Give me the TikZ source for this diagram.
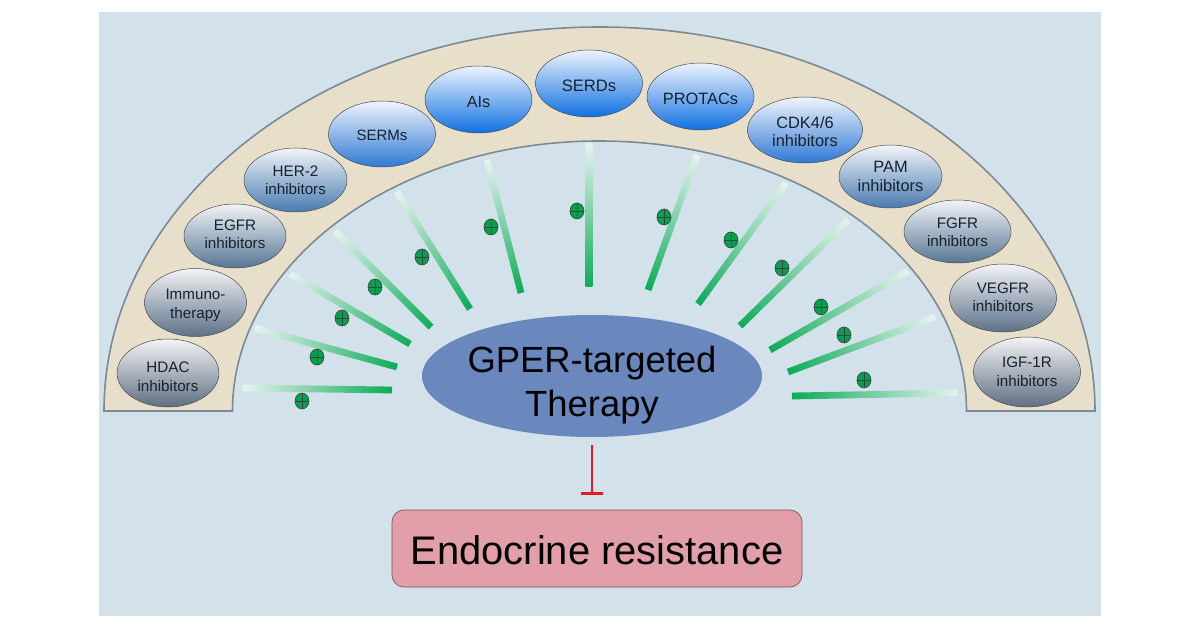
\documentclass[tikz,border=0pt]{standalone}
\usepackage{fontspec}
\setmainfont{Liberation Sans}
\usetikzlibrary{shapes.geometric,arrows.meta}
\definecolor{panelbg}{HTML}{D3E2EA}
\definecolor{archfill}{HTML}{E8DFCB}
\definecolor{archline}{HTML}{7B8A94}
\definecolor{bargreen}{HTML}{0CAB58}
\definecolor{barmid}{HTML}{7CD8A8}
\definecolor{barend}{HTML}{E6F3EE}
\definecolor{plusgreen}{HTML}{00A24F}
\definecolor{gperblue}{HTML}{6A88BE}
\definecolor{resistpink}{HTML}{E29FAA}
\definecolor{labelink}{HTML}{16222E}
\definecolor{inhibitred}{HTML}{E31B23}
\definecolor{shadeA}{HTML}{1070E2}
\definecolor{shadeB}{HTML}{2F78D4}
\definecolor{shadeC}{HTML}{4A7AB0}
\definecolor{shadeD}{HTML}{577693}
\definecolor{shadeE}{HTML}{5D7189}
\definecolor{shadeF}{HTML}{5F6F82}
\tikzset{
  drug/.style={ellipse,draw=black!70,line width=0.5pt,inner sep=0pt},
  drugtext/.style={align=center,text=labelink},
  plusmark/.style={ellipse,draw=black!75,line width=0.6pt,fill=plusgreen,minimum width=14pt,minimum height=16pt,inner sep=0pt},
  inhibit/.style={draw=inhibitred,line width=2.4pt,-{Bar[width=22pt,length=3pt]}},
}
\begin{document}
\begin{tikzpicture}[x=1pt,y=-1pt]
\useasboundingbox (0,0) rectangle (1200,628);
\fill [panelbg] (99,12) rectangle (1101,616);
% the arch
\draw [fill=archfill,draw=archline,line width=1.6pt] (104,411) arc [start angle=180,end angle=0,x radius=495.5pt,y radius=384pt]
  -- (966.5,411) arc [start angle=0,end angle=180,x radius=367pt,y radius=270pt] -- cycle;
% bars, inner end first
\foreach \ax/\ay/\bx/\by in {392/390/243/388,397/367/255/328,410/344/290/274,431/327/335/231,470/309/397/192,521/293/487/160,
  589/287/589/144,648/290/697/155,698/304/786/183,740/326/848/220,770/350/908/271,788/372/935/317,792/396/957/393}{
  \pgfmathsetmacro{\barlen}{veclen(\bx-\ax,\by-\ay)}
  \pgfmathsetmacro{\barang}{atan2(\ay-\by,\bx-\ax)}
  \begin{scope}[transform canvas={shift={(\ax,\ay)},rotate=\barang}]
    \shade [left color=bargreen,middle color=barmid,right color=barend] (0,-3.4) rectangle (\barlen,3.4);
  \end{scope}
}
\foreach \x/\y [count=\i] in {302/401,317/357,342/318,375/287,422/257,491/227,577/211,664/217,731/240,782/268,821/307,844/335,864/380}{
  \node [plusmark] (plus\i) at (\x,\y) {};
  \draw [black!75,line width=0.6pt] (plus\i.north) -- (plus\i.south) (plus\i.west) -- (plus\i.east);
}
% drug classes along the arch
\foreach \nm/\x/\y/\w/\h/\dy/\fs/\col/\txt in {hdac/168/373/102/68/4/15.2/shadeF/{HDAC\\inhibitors},immuno/195.5/302.5/102/68/3/15.2/shadeE/{Immuno-\\therapy},
  egfr/235/236/102/64/-1.5/15.2/shadeD/{EGFR\\inhibitors},hertwo/295.5/180/103/64/0.5/15.2/shadeC/{HER-2\\inhibitors},serms/382/134/107/66/1/15/shadeB/{SERMs},
  ais/478.5/99.5/107/67/3/16.2/shadeA/{AIs},serds/589/83.5/107/67/2.5/16.6/shadeA/{SERDs},protacs/700.5/96.5/107/67/2.5/16.4/shadeA/{PROTACs},
  cdk/805/130/115/66/1.5/16.4/shadeB/{CDK4/6\\inhibitors},pam/890.5/176.5/103/63/0/16.4/shadeC/{PAM\\inhibitors},fgfr/957.5/231.5/107/63/1/15.2/shadeD/{FGFR\\inhibitors},
  vegfr/1003/298/107/68/-0.5/15.2/shadeE/{VEGFR\\inhibitors},igf/1027/372/107/70/0/15.2/shadeF/{IGF-1R\\inhibitors}}{
  \node [drug,minimum width=\w pt,minimum height=\h pt,top color=white!92!\col,bottom color=\col,
    label={[drugtext,yshift=-\dy pt,font=\fontsize{\fs}{18.5}\selectfont]center:\txt}] (\nm) at (\x,\y) {};
}
\node [ellipse,fill=gperblue,minimum width=340pt,minimum height=122pt,inner sep=0pt,
  label={[yshift=-9.5pt,align=center,font=\fontsize{36.4}{44}\selectfont]center:GPER-targeted\\Therapy}] (gper) at (592,376) {};
\node [draw=black!45!resistpink,line width=0.7pt,fill=resistpink,rounded corners=12pt,minimum width=410pt,minimum height=77pt,inner sep=0pt,
  label={[yshift=-1.5pt,font=\fontsize{39.9}{44}\selectfont]center:Endocrine resistance}] (resist) at (597,548.5) {};
\coordinate (tbar) at (592,495);
\draw [inhibit,shorten <=8pt] (gper.south) -- (tbar);
\end{tikzpicture}
\end{document}
